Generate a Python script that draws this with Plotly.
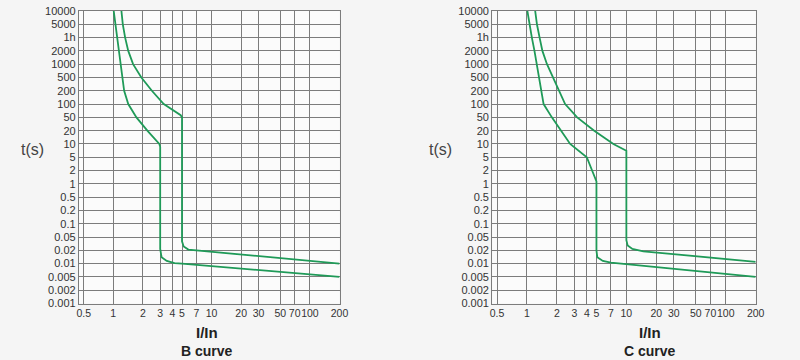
import numpy as np
import plotly.graph_objects as go

# ---- axis tick definitions ----
TIME_TICKS = [0.001, 0.002, 0.005, 0.01, 0.02, 0.05, 0.1, 0.2, 0.5, 1, 2, 5, 10,
              20, 50, 100, 200, 500, 1000, 2000, 3600, 5000, 10000]
TIME_LABELS = ["0.001", "0.002", "0.005", "0.01", "0.02", "0.05", "0.1", "0.2", "0.5",
               "1", "2", "5", "10", "20", "50", "100", "200", "500", "1000", "2000",
               "1h", "5000", "10000"]
CURRENT_TICKS = [0.5, 1, 2, 3, 4, 5, 7, 10, 20, 30, 50, 70, 100, 200]
CURRENT_LABELS = ["0.5", "1", "2", "3", "4", "5", "7", "10", "20", "30", "50", "70", "100", "200"]

# ---- B curve data (I/In, t in s) ----
b_upper_x = [1.21, 1.25, 1.32, 1.42, 1.59, 1.93, 2.47, 3.26, 4.85, 5, 5, 5.2, 5.8, 7, 200]
b_upper_t = [10000, 5000, 3600, 2000, 1000, 500, 200, 100, 56, 50, 0.037, 0.026, 0.021, 0.02, 0.01]
b_lower_x = [1.01, 1.05, 1.09, 1.13, 1.18, 1.23, 1.29, 1.42, 1.72, 2.22, 2.94, 3, 3, 3.1, 3.5, 4.2, 5, 200]
b_lower_t = [10000, 5000, 3600, 2000, 1000, 500, 200, 100, 50, 20, 10, 8.6, 0.022, 0.014, 0.0115, 0.0103, 0.01, 0.005]

# ---- C curve data ----
c_upper_x = [1.21, 1.26, 1.34, 1.43, 1.59, 1.82, 2.10, 2.42, 3.2, 4.75, 7.4, 10, 10, 10.3, 11.5, 14.8, 200]
c_upper_t = [10000, 5000, 3600, 2000, 1000, 500, 200, 100, 50, 20, 10, 7, 0.04, 0.028, 0.022, 0.019, 0.011]
c_lower_x = [1.01, 1.06, 1.12, 1.19, 1.26, 1.33, 1.40, 1.47, 1.78, 2.2, 2.72, 4, 5, 5, 5.1, 5.8, 7, 200]
c_lower_t = [10000, 5000, 3600, 2000, 1000, 500, 200, 100, 50, 20, 10, 5, 1.13, 0.02, 0.014, 0.0115, 0.0105, 0.005]


def tpos(t):
    """Chart's time scale: evenly spaced rows, log interpolation between labelled rows."""
    return np.interp(np.log10(np.asarray(t, float)), np.log10(TIME_TICKS), np.arange(len(TIME_TICKS)))


GREEN = "#1f9a58"
GRID = "#7c7c7c"
BG = "#f5f5f5"
W, H = 800, 360

fig = go.Figure()
for xs, ts, xa, ya in [(b_upper_x, b_upper_t, "x", "y"), (b_lower_x, b_lower_t, "x", "y"),
                       (c_upper_x, c_upper_t, "x2", "y2"), (c_lower_x, c_lower_t, "x2", "y2")]:
    fig.add_trace(go.Scatter(x=xs, y=tpos(ts), mode="lines", xaxis=xa, yaxis=ya,
                             line=dict(color=GREEN, width=1.8), showlegend=False,
                             hoverinfo="skip"))

ydom = [1 - 303.5 / H, 1 - 11 / H]
xaxis_common = dict(type="log", range=[np.log10(0.448), np.log10(200)],
                    tickvals=CURRENT_TICKS, ticktext=CURRENT_LABELS, tickangle=0,
                    showgrid=True, gridcolor=GRID, gridwidth=1.3,
                    showline=True, linecolor=GRID, linewidth=1.3, mirror=True,
                    ticks="", zeroline=False, automargin=False,
                    tickfont=dict(family="Liberation Sans, Arial", size=10.5, color="#333"))
yaxis_common = dict(range=[0, len(TIME_TICKS) - 1],
                    tickvals=list(range(len(TIME_TICKS))), ticktext=TIME_LABELS,
                    showgrid=True, gridcolor=GRID, gridwidth=1.3,
                    showline=True, linecolor=GRID, linewidth=1.3, mirror=True,
                    ticks="", zeroline=False, domain=ydom, automargin=False,
                    tickfont=dict(family="Liberation Sans, Arial", size=11, color="#333"))

fig.update_layout(
    width=W, height=H,
    margin=dict(l=0, r=0, t=0, b=0),
    paper_bgcolor=BG,
    plot_bgcolor="#fbfbfb",
    xaxis=dict(xaxis_common, domain=[79 / W, 339.5 / W], anchor="y"),
    yaxis=dict(yaxis_common, anchor="x"),
    xaxis2=dict(xaxis_common, domain=[492.3 / W, 755.7 / W], anchor="y2"),
    yaxis2=dict(yaxis_common, anchor="x2"),
)

def ann(text, px, py, size, bold=False, color="#222"):
    fig.add_annotation(text=f"<b>{text}</b>" if bold else text,
                       x=px / W, y=1 - py / H, xref="paper", yref="paper",
                       xanchor="center", yanchor="middle", showarrow=False,
                       font=dict(family="Liberation Sans, Arial", size=size, color=color))

ann("t(s)", 32.5, 149, 16, color="#444")
ann("t(s)", 440, 149, 16, color="#444")
ann("I/In", 206.5, 332, 15, bold=True)
ann("B curve", 207, 351, 14, bold=True)
ann("I/In", 649.5, 332, 15, bold=True)
ann("C curve", 649.7, 351, 14, bold=True)

fig.write_html("out.html", config={"displayModeBar": False},
               post_script=f"document.body.style.margin='0';document.body.style.background='{BG}';")
